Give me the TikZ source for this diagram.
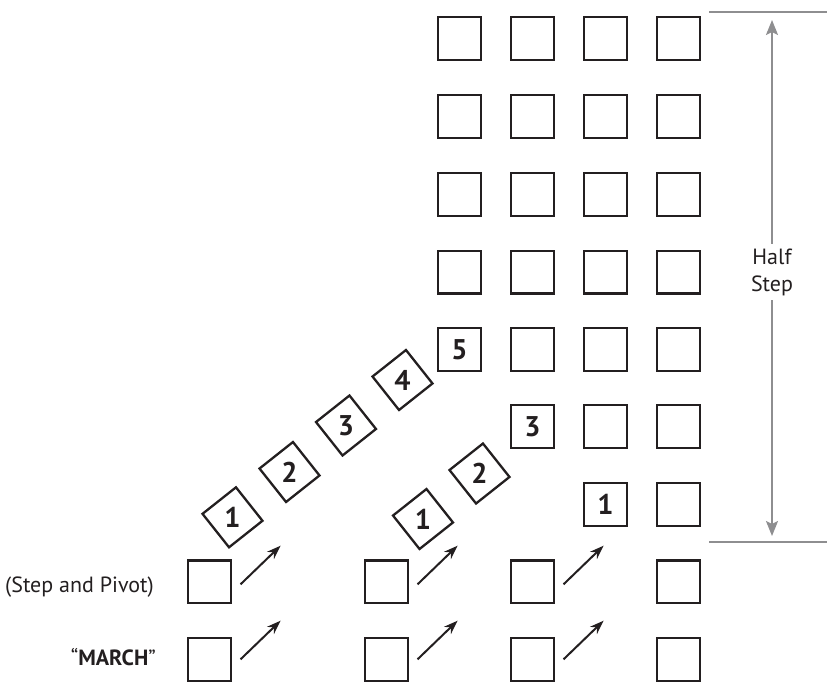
\documentclass[tikz,border=0pt]{standalone}
\usepackage{fontspec}
\setmainfont{PT Sans}
\usetikzlibrary{arrows.meta}
\definecolor{ink}{HTML}{231F20}
\definecolor{dimgray}{HTML}{8E8E90}
\begin{document}
\begin{tikzpicture}[x=1pt,y=-1pt,
 sq/.style={draw=ink, line width=2.3pt, minimum size=42.7pt, inner sep=0pt, outer sep=0pt},
 dia/.style={sq, rotate=38.4},
 lbl/.style={font=\fontsize{28.5}{32}\selectfont\bfseries, text=ink, inner sep=0pt},
 mv/.style={draw=ink, line width=2pt, -{Stealth[length=14pt,width=10pt]}},
 dimline/.style={draw=dimgray, line width=2pt},
 dimarrow/.style={dimline, {Stealth[length=15pt,width=12pt,inset=3pt]}-{Stealth[length=15pt,width=12pt,inset=3pt]}},
 side/.style={font=\fontsize{22}{27}\selectfont, text=ink, inner sep=0pt}
]
\useasboundingbox (0,0) rectangle (827,681);
% full rows of the block
\foreach \r/\y in {0/38.5,1/116.5,2/194.5,3/272}
  \foreach \c/\x in {1/459.5,2/532.5,3/605.5,4/678.5}
    \node[sq] (g\r\c) at (\x,\y) {};
\node[sq] (g41) at (459.5,349.5) {};
\node[sq] (g42) at (532.5,349.5) {};
\node[sq] (g43) at (605.5,349.5) {};
\node[sq] (g44) at (678.5,349.5) {};
\node[sq] (g52) at (532.5,426.5) {};
\node[sq] (g53) at (605.5,426.5) {};
\node[sq] (g54) at (678.5,426.5) {};
\node[sq] (g63) at (605.5,504.5) {};
\node[sq] (g64) at (678.5,504.5) {};
\node[lbl] (g41t) at (g41) {5};
\node[lbl] (g52t) at (g52) {3};
\node[lbl] (g63t) at (g63) {1};
% step and pivot row
\node[sq] (s1) at (209.5,581.8) {};
\node[sq] (s2) at (386.5,581.8) {};
\node[sq] (s3) at (532.5,581.8) {};
\node[sq] (s4) at (678.5,581.8) {};
% march row
\node[sq] (m1) at (209.5,659.3) {};
\node[sq] (m2) at (386.5,659.3) {};
\node[sq] (m3) at (532.5,659.3) {};
\node[sq] (m4) at (678.5,659.3) {};
% diamonds
\node[dia] (a1) at (232.5,517.3) {};
\node[dia] (a2) at (289.5,472) {};
\node[dia] (a3) at (346,425.5) {};
\node[dia] (a4) at (402.5,380) {};
\node[dia] (b1) at (423,519) {};
\node[dia] (b2) at (479.5,473.5) {};
\node[lbl] (a1t) at (a1) {1};
\node[lbl] (a2t) at (a2) {2};
\node[lbl] (a3t) at (a3) {3};
\node[lbl] (a4t) at (a4) {4};
\node[lbl] (b1t) at (b1) {1};
\node[lbl] (b2t) at (b2) {2};
% movement arrows
\foreach \n in {s1,s2,s3}
  \draw[mv] ([shift={(9.7,2.5)}]\n.east) -- ++(40,-38.6);
\foreach \n in {m1,m2,m3}
  \draw[mv] ([shift={(9.7,0)}]\n.east) -- ++(40,-38.6);
% dimension
\coordinate (tl) at (709,12);
\coordinate (tr) at (827,12);
\coordinate (bl) at (709,542);
\coordinate (br) at (827,542);
\coordinate (at) at (772,20);
\coordinate (ab) at (772,536);
\draw[dimline] (tl) -- (tr);
\draw[dimline] (bl) -- (br);
\draw[dimarrow] (at) -- (ab);
\node[side, fill=white, inner xsep=3pt, inner ysep=5pt, align=center] (hs) at (772,272) {Half\\Step};
% labels
\node[side, anchor=base east] (lsp) at (154,592) {(Step and Pivot)};
\node[side, anchor=base east] (lm) at (156,665) {“\textbf{MARCH}”};
\end{tikzpicture}
\end{document}
